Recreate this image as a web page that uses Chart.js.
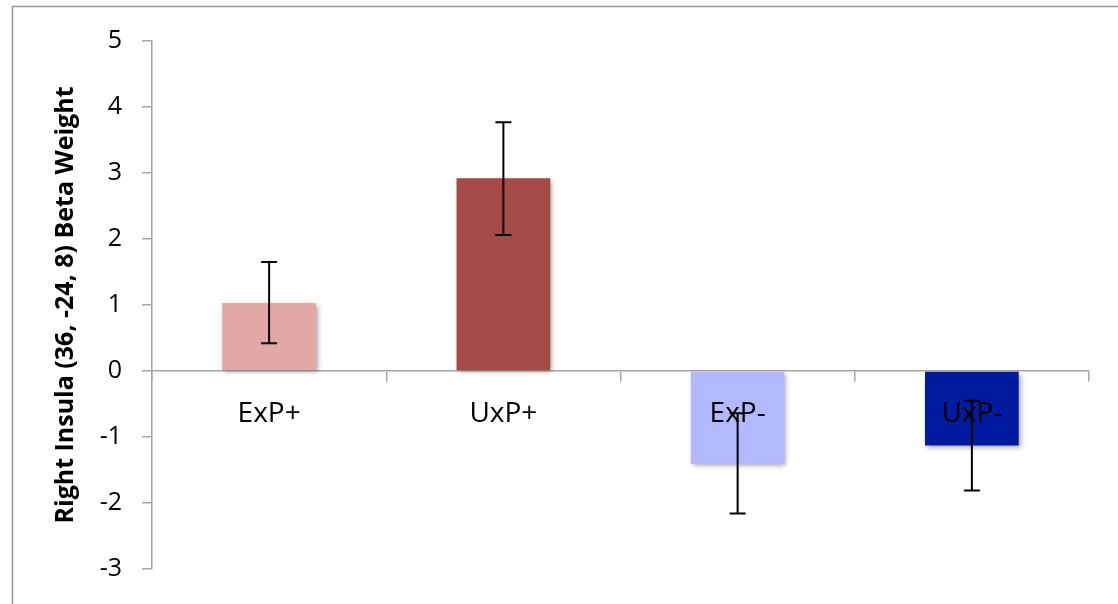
<!DOCTYPE html>
<html lang="en">
<head>
    <meta charset="UTF-8">
    <title>Right Insula Beta Weight</title>
    <script src="https://cdn.jsdelivr.net/npm/chart.js"></script>
    <style>
        html, body { margin: 0; padding: 0; background: #fff; }
        #wrap { width: 1118px; height: 604px; position: relative; }
    </style>
</head>
<body>
    <div id="wrap">
        <canvas id="betaChart"></canvas>
    </div>

    <script>
        // data
        var categories = ['ExP+', 'UxP+', 'ExP-', 'UxP-'];
        var betaValues = [1.03, 2.92, -1.41, -1.13];
        var errHigh = [1.65, 3.77, -0.64, -0.45];
        var errLow = [0.42, 2.06, -2.16, -1.81];
        var barColors = ['#E2A8A6', '#A54A44', '#B3B9FF', '#001B9F'];
        var yTicks = [-3, -2, -1, 0, 1, 2, 3, 4, 5];

        // outer frame like the spreadsheet chart box
        var framePlugin = {
            id: 'frame',
            beforeDraw: function(chart) {
                var ctx = chart.ctx;
                ctx.save();
                ctx.strokeStyle = '#999999';
                ctx.lineWidth = 1.5;
                ctx.beginPath();
                ctx.moveTo(12.5, chart.height + 2);
                ctx.lineTo(12.5, 6.5);
                ctx.lineTo(chart.width + 2, 6.5);
                ctx.stroke();
                ctx.restore();
            }
        };

        // soft drop shadow on the bars
        var shadowPlugin = {
            id: 'barShadow',
            beforeDatasetsDraw: function(chart) {
                var ctx = chart.ctx;
                ctx.save();
                ctx.shadowColor = 'rgba(0,0,0,0.35)';
                ctx.shadowBlur = 5;
                ctx.shadowOffsetX = 2;
                ctx.shadowOffsetY = 2;
            },
            afterDatasetsDraw: function(chart) {
                chart.ctx.restore();
            }
        };

        // error bars drawn through the scales
        var errorBarPlugin = {
            id: 'errorBars',
            afterDraw: function(chart) {
                var ctx = chart.ctx;
                var meta = chart.getDatasetMeta(0);
                var yScale = chart.scales.y;
                ctx.save();
                ctx.strokeStyle = '#000';
                ctx.lineWidth = 2;
                meta.data.forEach(function(bar, i) {
                    var x = bar.x;
                    var yTop = yScale.getPixelForValue(errHigh[i]);
                    var yBot = yScale.getPixelForValue(errLow[i]);
                    ctx.beginPath();
                    ctx.moveTo(x, yTop);
                    ctx.lineTo(x, yBot);
                    ctx.moveTo(x - 8, yTop);
                    ctx.lineTo(x + 8, yTop);
                    ctx.moveTo(x - 8, yBot);
                    ctx.lineTo(x + 8, yBot);
                    ctx.stroke();
                });
                ctx.restore();
            }
        };

        var ctx = document.getElementById('betaChart').getContext('2d');
        var betaChart = new Chart(ctx, {
            type: 'bar',
            data: {
                labels: categories,
                datasets: [{
                    data: betaValues,
                    backgroundColor: barColors,
                    borderWidth: 0,
                    barPercentage: 0.4,
                    categoryPercentage: 1.0
                }]
            },
            options: {
                responsive: true,
                maintainAspectRatio: false,
                animation: false,
                layout: {
                    padding: { left: 0, top: 41, right: 29, bottom: 34 }
                },
                plugins: {
                    legend: { display: false },
                    tooltip: { enabled: false }
                },
                scales: {
                    x: {
                        position: { y: 0 },
                        grid: {
                            offset: true,
                            drawOnChartArea: false,
                            tickLength: 10,
                            color: '#A6A6A6',
                            lineWidth: 1.5
                        },
                        border: { color: '#A6A6A6', width: 1.5 },
                        ticks: {
                            z: 1,  // labels sit on top of the negative bars
                            color: '#000',
                            padding: 16,
                            font: { family: 'Open Sans', size: 28 }
                        }
                    },
                    y: {
                        min: -3,
                        max: 5,
                        afterFit: function(scale) { scale.width = 152; },
                        afterBuildTicks: function(scale) {
                            scale.ticks = yTicks.map(function(v) { return { value: v }; });
                        },
                        grid: {
                            drawOnChartArea: false,
                            tickLength: 10,
                            color: '#A6A6A6',
                            lineWidth: 1.5
                        },
                        border: { color: '#A6A6A6', width: 1.5 },
                        ticks: {
                            color: '#000',
                            padding: 20,
                            font: { family: 'Open Sans', size: 25 }
                        },
                        title: {
                            display: true,
                            text: 'Right Insula (36, -24, 8) Beta Weight',
                            color: '#000',
                            padding: { top: 51, bottom: 0 },
                            font: { family: 'Open Sans', size: 25, weight: 'bold' }
                        }
                    }
                }
            },
            plugins: [framePlugin, shadowPlugin, errorBarPlugin]
        });
    </script>
</body>
</html>
